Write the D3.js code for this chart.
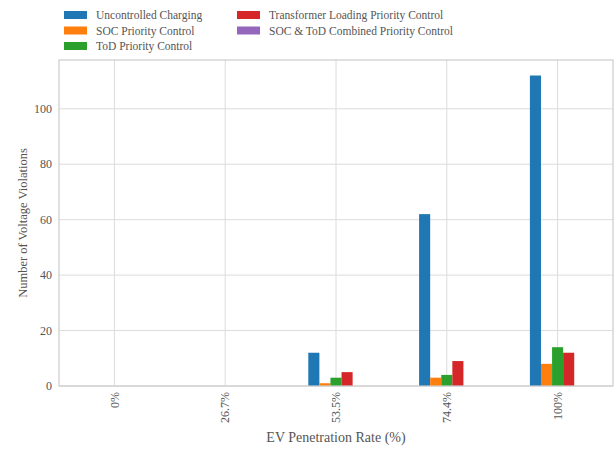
<!DOCTYPE html>
<html>
<head>
<meta charset="utf-8">
<script src="https://cdn.jsdelivr.net/npm/d3@7"></script>
<style>
  body { margin: 0; background: #fff; }
  text { font-family: 'Liberation Serif', serif; fill: #555; }
</style>
</head>
<body>
<svg id="chart" width="616" height="449"></svg>
<script>
const categories = ['0%', '26.7%', '53.5%', '74.4%', '100%']
const seriesNames = [
  'Uncontrolled Charging',
  'SOC Priority Control',
  'ToD Priority Control',
  'Transformer Loading Priority Control',
  'SOC & ToD Combined Priority Control'
]
const uncontrolled = [0, 0, 12, 62, 112]
const socPriority = [0, 0, 1, 3, 8]
const todPriority = [0, 0, 3, 4, 14]
const transformerPriority = [0, 0, 5, 9, 12]
const combinedPriority = [0, 0, 0, 0, 0]
const yTicks = [0, 20, 40, 60, 80, 100]
const colors = ['#1f77b4', '#ff7f0e', '#2ca02c', '#d62728', '#9467bd']

const series = [uncontrolled, socPriority, todPriority, transformerPriority, combinedPriority]

const margin = { top: 60, left: 59, right: 3, bottom: 63 }
const width = 616 - margin.left - margin.right
const height = 449 - margin.top - margin.bottom

const svg = d3.select('#chart')
const g = svg.append('g').attr('transform', `translate(${margin.left},${margin.top})`)

// scales
const x = d3.scaleBand().domain(categories).range([0, width])
const xInner = d3
  .scaleBand()
  .domain(d3.range(series.length))
  .range([-0.25 * x.step(), 0.25 * x.step()])

const y = d3
  .scaleLinear()
  .domain([0, d3.max(uncontrolled) * 1.05])
  .range([height, 0])

// grid
g.selectAll('.ygrid')
  .data(yTicks)
  .enter()
  .append('line')
  .attr('x1', 0)
  .attr('x2', width)
  .attr('y1', d => y(d))
  .attr('y2', d => y(d))
  .attr('stroke', '#dcdcdc')
  .attr('stroke-width', 1)

g.selectAll('.xgrid')
  .data(categories)
  .enter()
  .append('line')
  .attr('x1', d => x(d) + x.bandwidth() / 2)
  .attr('x2', d => x(d) + x.bandwidth() / 2)
  .attr('y1', 0)
  .attr('y2', height)
  .attr('stroke', '#dcdcdc')
  .attr('stroke-width', 1)

// bars
series.forEach((values, i) => {
  g.selectAll('.bar-' + i)
    .data(values)
    .enter()
    .append('rect')
    .attr('x', (d, j) => x(categories[j]) + x.bandwidth() / 2 + xInner(i))
    .attr('width', xInner.bandwidth())
    .attr('y', d => y(d))
    .attr('height', d => y(0) - y(d))
    .attr('fill', colors[i])
})

// frame
g.append('rect')
  .attr('width', width)
  .attr('height', height)
  .attr('fill', 'none')
  .attr('stroke', '#cccccc')
  .attr('stroke-width', 1.2)

// y tick labels
g.selectAll('.ylabel')
  .data(yTicks)
  .enter()
  .append('text')
  .text(d => d)
  .attr('x', -7)
  .attr('y', d => y(d))
  .attr('dy', '0.35em')
  .attr('text-anchor', 'end')
  .style('font-size', '12px')

// x tick labels
g.selectAll('.xlabel')
  .data(categories)
  .enter()
  .append('text')
  .text(d => d)
  .attr('text-anchor', 'end')
  .attr('transform', d => `translate(${x(d) + x.bandwidth() / 2},${height + 6})rotate(-90)`)
  .attr('dy', '0.35em')
  .style('font-size', '12px')

// axis titles
g.append('text')
  .text('EV Penetration Rate (%)')
  .attr('x', width / 2)
  .attr('y', height + 56)
  .attr('text-anchor', 'middle')
  .style('font-size', '14px')

g.append('text')
  .text('Number of Voltage Violations')
  .attr('transform', `translate(-32,${height / 2})rotate(-90)`)
  .attr('text-anchor', 'middle')
  .style('font-size', '12.5px')

// legend
const legend = svg
  .selectAll('.legend')
  .data(seriesNames)
  .enter()
  .append('g')
  .attr('transform', (d, i) => {
    const col = i < 3 ? 0 : 1
    const row = i < 3 ? i : i - 3
    return `translate(${64 + col * 173},${15 + row * 15.5})`
  })

legend
  .append('rect')
  .attr('x', 0)
  .attr('y', -4)
  .attr('width', 23)
  .attr('height', 8)
  .attr('fill', (d, i) => colors[i])

legend
  .append('text')
  .text(d => d)
  .attr('x', 32)
  .attr('dy', '0.35em')
  .style('font-size', '11.5px')
</script>
</body>
</html>
